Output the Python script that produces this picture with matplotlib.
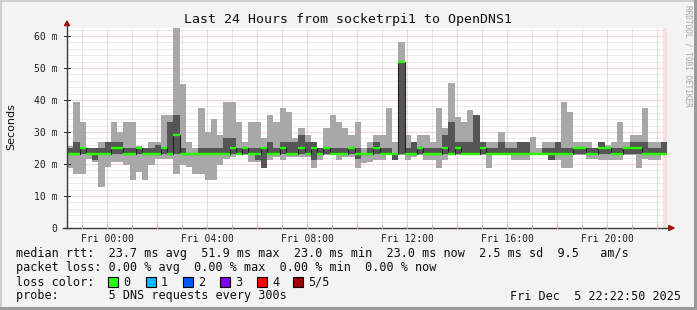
import numpy as np
import matplotlib
matplotlib.use("Agg")
import matplotlib.pyplot as plt
from matplotlib.patches import Rectangle, Polygon

# ── Colours ────────────────────────────────────────────────────────────────
C_BG = "#f3f3f3"
C_SMOKE_LT = "#a8a8a8"
C_SMOKE_DK = "#555555"
C_GREEN = "#26ff00"
C_GRID = "#d4d4d4"
C_MGRID = "#f4a8a8"
C_AXIS = "#3a3a3a"
C_ARROW = "#a01010"
MONO = "DejaVu Sans Mono"

# ── Data: 15 min bins, hours since Thu 22:22:50 ───────────────────────────
smoke_hi = [25.5, 39.4, 33.2, 24.9, 24.9, 27.0, 27.0, 33.2, 30.1, 33.2, 33.2, 25.5, 24.9, 27.0, 27.0, 35.3,
            35.3, 62.5, 45.0, 27.0, 24.9, 37.4, 30.1, 34.2, 29.0, 39.4, 39.4, 33.2, 27.0, 33.2, 33.2, 28.0,
            35.3, 33.2, 37.4, 36.3, 28.0, 31.1, 29.0, 27.0, 24.9, 31.1, 35.3, 33.2, 31.1, 29.0, 33.2, 24.9,
            27.0, 29.0, 29.0, 37.4, 27.0, 58.2, 29.0, 27.0, 29.0, 29.0, 27.0, 37.4, 31.1, 45.2, 34.8, 33.2,
            36.8, 29.0, 27.0, 27.0, 27.0, 30.1, 27.0, 27.0, 27.0, 27.0, 28.5, 24.9, 27.0, 27.0, 27.0, 39.4,
            36.3, 27.0, 27.0, 27.0, 24.9, 27.0, 25.9, 27.0, 33.2, 27.0, 29.0, 29.0, 37.4, 27.0, 27.0, 27.0]
smoke_lo = [18.6, 17.0, 17.0, 21.7, 20.7, 12.9, 19.1, 20.7, 20.7, 19.7, 15.0, 17.6, 15.0, 19.7, 21.7, 21.7,
            21.7, 17.0, 19.7, 19.1, 17.0, 17.0, 15.0, 15.0, 19.7, 21.7, 22.3, 22.8, 22.8, 20.7, 20.7, 18.8,
            21.2, 22.3, 21.2, 22.3, 22.3, 22.3, 22.3, 18.8, 21.2, 22.8, 22.8, 21.2, 22.3, 22.3, 18.8, 20.2,
            20.7, 21.2, 21.2, 22.8, 21.2, 22.8, 21.2, 22.3, 22.8, 21.2, 21.2, 18.8, 21.2, 22.8, 22.8, 22.8,
            22.8, 22.8, 22.8, 18.8, 22.8, 22.8, 22.8, 21.2, 21.2, 21.2, 22.8, 22.8, 22.8, 21.2, 21.2, 18.8,
            18.8, 22.8, 22.8, 21.7, 21.7, 21.2, 21.2, 21.2, 21.2, 22.8, 22.8, 18.8, 21.7, 21.2, 21.2, 22.8]
dark_lo = [23, 23, 23, 23, 21.2, 23, 23, 23, 23, 23, 23, 23, 23, 23, 23, 23,
           23, 23, 23, 23, 23, 23, 23, 23, 23, 23, 23, 23, 23, 23, 21.2, 18.8,
           23, 23, 23, 23, 23, 23, 23, 21.2, 23, 23, 23, 23, 23, 23, 21.7, 23,
           23, 23, 23, 23, 21.2, 23, 23, 23, 23, 23, 23, 23, 23, 23, 23, 23,
           23, 23, 23, 23, 23, 23, 23, 23, 23, 23, 23, 23, 23, 21.2, 23, 23,
           23, 23, 23, 23, 23, 23, 23, 23, 23, 23, 23, 23, 23, 23, 23, 23]
dark_hi = [25, 27, 25, 25, 25, 25, 27, 27, 27, 25, 25, 25, 25, 25, 26, 25,
           33.2, 35.3, 25, 23, 23, 25, 25, 25, 25, 28, 28, 25, 25, 25, 25, 25,
           27, 25, 27, 27, 27, 29, 27, 27, 25, 25, 25, 25, 25, 25, 25, 23,
           25, 27, 25, 25, 23, 52, 25, 27, 25, 25, 25, 25, 29, 33.2, 27, 27,
           27, 35.3, 27, 25, 25, 27, 25, 25, 27, 27, 23, 23, 25, 25, 27, 25,
           25, 25, 25, 25, 25, 27, 25, 25, 25, 25, 27, 27, 27, 25, 25, 27]
median = [23, 23, 25, 23, 23, 23, 23, 25, 25, 23, 23, 25, 23, 23, 23, 25,
          23, 29, 23, 23, 23, 23, 23, 23, 23, 23, 25, 23, 25, 23, 23, 25,
          23, 23, 25, 23, 23, 25, 23, 25, 23, 25, 23, 23, 23, 25, 23, 23,
          23, 25, 23, 23, 23, 51.9, 23, 23, 25, 23, 23, 23, 25, 23, 25, 23,
          23, 23, 25, 23, 23, 23, 23, 23, 23, 23, 23, 23, 23, 23, 23, 23,
          23, 25, 25, 23, 23, 25, 25, 23, 23, 25, 25, 25, 23, 23, 23, 23]

bin_hours = 0.25
first_hour = 0.619444          # Thu 23:00 relative to start
x_labels = ["Fri 00:00", "Fri 04:00", "Fri 08:00", "Fri 12:00", "Fri 16:00", "Fri 20:00"]
y_ticks = [0, 10, 20, 30, 40, 50, 60]

loss_colors = ["#26ff00", "#00b8ff", "#0059ff", "#7e00ff", "#ff0000", "#a00000"]
loss_labels = ["0", "1", "2", "3", "4", "5/5"]

title = "Last 24 Hours from socketrpi1 to OpenDNS1"
legend_lines = [
    "median rtt:  23.7 ms avg  51.9 ms max  23.0 ms min  23.0 ms now  2.5 ms sd  9.5   am/s",
    "packet loss: 0.00 % avg  0.00 % max  0.00 % min  0.00 % now",
    "loss color:",
    "probe:       5 DNS requests every 300s",
]
stamp = "Fri Dec  5 22:22:50 2025"

# ── Figure ─────────────────────────────────────────────────────────────────
W, H = 697, 310
fig = plt.figure(figsize=(W / 100, H / 100), dpi=100)
fig.patch.set_facecolor(C_BG)


def fx(x):
    return x / W


def fy(y):
    return 1 - y / H


# frame around the picture
fig.patches.append(Rectangle((0, 0), 1, 1, transform=fig.transFigure, fill=False,
                             edgecolor="#cfcfcf", linewidth=2.2))
fig.patches.append(Rectangle((fx(W - 3), 0), fx(3), 1, transform=fig.transFigure,
                             facecolor="#9a9a9a", edgecolor="none"))
fig.patches.append(Rectangle((0, 0), 1, 3 / H, transform=fig.transFigure,
                             facecolor="#9a9a9a", edgecolor="none"))

ax = fig.add_axes([fx(67), fy(228), 600 / W, 200 / H])
ax.set_facecolor("white")
ax.set_xlim(0, 24)
ax.set_ylim(0, 62.5)
for s in ax.spines.values():
    s.set_visible(False)

# grid
dot = (0, (1, 1))
for v in np.arange(2, 62.5, 2):
    if v % 10 == 0:
        ax.axhline(v, color=C_MGRID, lw=0.72, ls=dot, zorder=1)
    else:
        ax.axhline(v, color=C_GRID, lw=0.72, ls=dot, zorder=1)
hours = first_hour + np.arange(24)
for k, h in enumerate(hours):
    ax.axvline(h, color=C_MGRID if k % 2 == 1 else C_GRID, lw=0.72, ls=dot, zorder=1)

# "now" strip
ax.axvspan(23.84, 24.0, color="#ffdcdc", lw=0, zorder=1.5)

# smoke
edges = np.arange(len(median) + 1) * bin_hours


def ext(a):
    return np.r_[a, a[-1]]


ax.fill_between(edges, ext(smoke_lo), ext(smoke_hi), step="post", color=C_SMOKE_LT, lw=0, zorder=2)
ax.fill_between(edges, ext(dark_lo), ext(dark_hi), step="post", color=C_SMOKE_DK, lw=0, zorder=3)

# median
ax.step(edges, ext(median), where="post", color="#202020", lw=0.8, zorder=4)
ax.hlines(median, edges[:-1], edges[1:], color=C_GREEN, lw=1.7, zorder=5)

# ticks / labels
ax.set_yticks(y_ticks)
ax.set_yticklabels(["0" if v == 0 else f"{v} m" for v in y_ticks])
ax.set_xticks(hours[1::4])
ax.set_xticklabels(x_labels)
ax.tick_params(axis="y", length=0, pad=7, labelsize=7, labelcolor="#202020")
ax.tick_params(axis="x", length=0, pad=4, labelsize=7, labelcolor="#202020")
for lab in ax.get_xticklabels() + ax.get_yticklabels():
    lab.set_family(MONO)

# axis lines and arrows
ax.plot([0, 0], [0, 1.01], transform=ax.transAxes, color=C_AXIS, lw=1, clip_on=False, zorder=6)
ax.plot([-4 / 600, 1.005], [0, 0], transform=ax.transAxes, color=C_AXIS, lw=1, clip_on=False, zorder=6)
ax.add_patch(Polygon([[-2.5 / 600, 1.012], [2.5 / 600, 1.012], [0, 1.035]], closed=True,
                     transform=ax.transAxes, color=C_ARROW, clip_on=False, zorder=7))
ax.add_patch(Polygon([[1.003, -2.5 / 200], [1.003, 2.5 / 200], [1.012, 0]], closed=True,
                     transform=ax.transAxes, color=C_ARROW, clip_on=False, zorder=7))
ytr = ax.get_yaxis_transform()
for v in y_ticks:
    ax.plot([-3 / 600, 3 / 600], [v, v], transform=ytr, color=C_AXIS, lw=0.8, clip_on=False, zorder=6)
xtr = ax.get_xaxis_transform()
for k, h in enumerate(hours):
    ax.plot([h, h], [0, 3 / 200], transform=xtr, color=C_MGRID if k % 2 == 1 else "#b0b0b0",
            lw=0.8, clip_on=False, zorder=6)

# texts
fig.text(fx(347.5), fy(19), title, ha="center", va="center", fontsize=9.5, family=MONO, color="#101010")
fig.text(fx(11), fy(127), "Seconds", ha="center", va="center", rotation=90, fontsize=8,
         family="DejaVu Sans", color="#101010")
fig.text(fx(688), fy(5), "RRDTOOL / TOBI OETIKER", ha="center", va="top", rotation=270,
         fontsize=5.6, family=MONO, color="#a8a8a8")

for i, line in enumerate(legend_lines):
    fig.text(fx(16), fy(254 + 14 * i), line, ha="left", va="center", fontsize=8.5,
             family=MONO, color="#101010")

box_x = [108, 146, 183, 220, 257, 293]
for bx, col, lab in zip(box_x, loss_colors, loss_labels):
    fig.patches.append(Rectangle((fx(bx), fy(287)), 10 / W, 10 / H, transform=fig.transFigure,
                                 facecolor=col, edgecolor="black", linewidth=0.8))
    fig.text(fx(bx + 15), fy(282), lab, ha="left", va="center", fontsize=8.5,
             family=MONO, color="#101010")

fig.text(fx(681), fy(296), stamp, ha="right", va="center", fontsize=8.5, family=MONO, color="#101010")

fig.savefig("out.png", dpi=100, facecolor=fig.get_facecolor())
